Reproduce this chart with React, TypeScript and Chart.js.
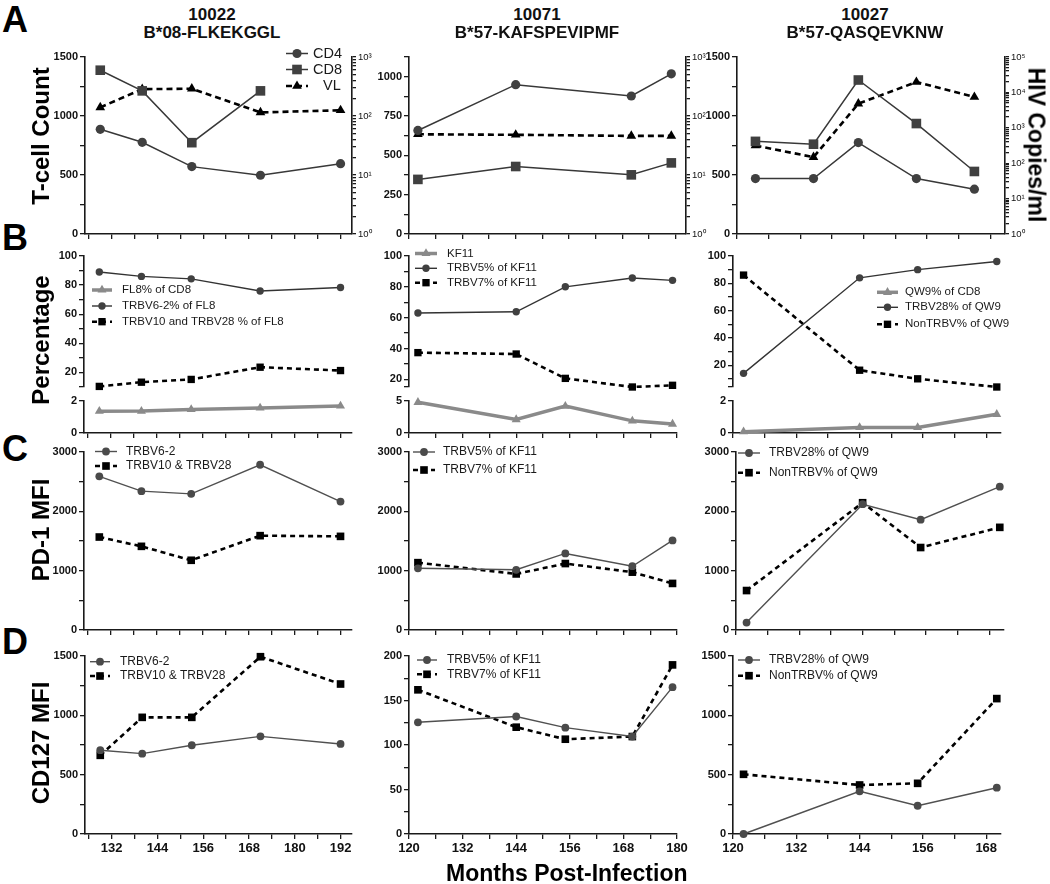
import React, { useEffect, useRef } from 'react';
import { Chart, registerables } from 'chart.js';
Chart.register(...registerables);

const FONT = '"Liberation Sans", Arial, Helvetica, sans-serif';

// ---------------- data ----------------
// months post-infection
const monthsA1 = [129, 140, 153, 171, 192];
const monthsA2 = [122, 144, 170, 179];
const monthsA3 = [123.5, 134.5, 143, 154, 165];
const months1 = [129, 140, 153, 171, 192];
const months2 = [122, 144, 155, 170, 179];
const months3 = [122, 144, 155, 170];

// Row A: T-cell counts and viral load
const a1CD4 = [887, 777, 571, 498, 596];
const a1CD8 = [1388, 1213, 774, 1213, null];
const a1VL = [140, 285, 290, 115, 125];
const a2CD4 = [658, 949, 877, 1018];
const a2CD8 = [347, 429, 376, 452];
const a2VL = [49, 48, 46, 46];
const a3CD4 = [470, 470, 775, 470, 380];
const a3CD8 = [785, 761, 1305, 936, 530];
const a3VL = [316, 148, 4800, 19600, 7400];

// Row B: percentages
const b1FL8 = [1.36, 1.37, 1.47, 1.57, 1.69];
const b1V6 = [89, 86, 84.3, 76, 78.4];
const b1V10 = [10.4, 13.3, 15.2, 23.6, 21.3];
const b2KF11 = [4.8, 2.1, 4.2, 1.9, 1.4];
const b2V5 = [63, 63.8, 80, 85.7, 84.2];
const b2V7 = [37.3, 36.4, 20.6, 15, 16.1];
const b3QW9 = [0.08, 0.35, 0.35, 1.17];
const b3V28 = [14, 84, 90, 96];
const b3Non = [86, 16.3, 10, 4];

// Row C: PD-1 MFI
const c1V6 = [2590, 2340, 2295, 2785, 2165];
const c1V10 = [1567, 1410, 1175, 1590, 1578];
const c2V5 = [1040, 1015, 1290, 1075, 1510];
const c2V7 = [1135, 945, 1120, 975, 785];
const c3V28 = [125, 2120, 1860, 2415];
const c3Non = [665, 2145, 1390, 1730];

// Row D: CD127 MFI
const d1V6 = [706, 677, 748, 823, 759];
const d1V10 = [663, 983, 983, 1494, 1264];
const d2V5 = [125.5, 132, 119.5, 109.5, 165];
const d2V7 = [162, 120, 106.5, 109.5, 190];
const d3V28 = [0, 360, 238, 390];
const d3Non = [503, 413, 427, 1141];

// ---------------- ticks ----------------
const xTicks1 = [126, 132, 138, 144, 150, 156, 162, 168, 174, 180, 186, 192];
const xLabels1 = [132, 144, 156, 168, 180, 192];
const xTicks2 = [120, 126, 132, 138, 144, 150, 156, 162, 168, 174, 180];
const xLabels2 = [120, 132, 144, 156, 168, 180];
const xTicks3 = [120, 126, 132, 138, 144, 150, 156, 162, 168];
const xLabels3 = [120, 132, 144, 156, 168];

const yTicks1500 = [0, 250, 500, 750, 1000, 1250, 1500];
const yLabels1500 = [0, 500, 1000, 1500];
const yTicks1125 = [0, 125, 250, 375, 500, 625, 750, 875, 1000, 1125];
const yLabels1125 = [0, 250, 500, 750, 1000];
const logLabels3 = [1, 10, 100, 1000];
const logLabels5 = [1, 10, 100, 1000, 10000, 100000];
const yTicksB1 = [10, 20, 30, 40, 50, 60, 70, 80, 90, 100];
const yTicksB2 = [15, 20, 30, 40, 50, 60, 70, 80, 90, 100];
const yTicksB3 = [4, 10, 20, 30, 40, 50, 60, 70, 80, 90, 100];
const yLabelsB = [20, 40, 60, 80, 100];
const yTicksLo2 = [0, 2];
const yTicksLo5 = [0, 5];
const yTicks3000 = [0, 500, 1000, 1500, 2000, 2500, 3000];
const yLabels3000 = [0, 1000, 2000, 3000];
const yTicks200 = [0, 25, 50, 75, 100, 125, 150, 175, 200];
const yLabels200 = [0, 50, 100, 150, 200];

const SUP = ['\u2070', '\u00B9', '\u00B2', '\u00B3', '\u2074', '\u2075'];
const logFmt = (v: number) => '10' + SUP[Math.round(Math.log10(v))];
const withMinors = (decades: number[]) => {
  const out: number[] = [];
  decades.forEach((d, i) => {
    if (i === decades.length - 1) { out.push(d); return; }
    for (let k = 1; k < 10; k++) out.push(d * k);
  });
  return out;
};

// ---------------- styles ----------------
type St = { line: string; fill: string; w: number; dash: number[]; marker: string; r: number; label?: string };
const aCirc: St = { line: '#383838', fill: '#404040', w: 1.5, dash: [], marker: 'circle', r: 4.6 };
const aSq: St = { line: '#383838', fill: '#404040', w: 1.5, dash: [], marker: 'rect', r: 6.8 };
const aTri: St = { line: '#000', fill: '#000', w: 2.6, dash: [6, 4], marker: 'triangle', r: 5.6 };
const bTri: St = { line: '#8a8a8a', fill: '#8a8a8a', w: 3.5, dash: [], marker: 'triangle', r: 5.2 };
const bCirc: St = { line: '#333', fill: '#404040', w: 1.4, dash: [], marker: 'circle', r: 3.7 };
const bSq: St = { line: '#000', fill: '#000', w: 2.6, dash: [5, 4], marker: 'rect', r: 5.2 };
const cCirc: St = { line: '#505050', fill: '#4a4a4a', w: 1.4, dash: [], marker: 'circle', r: 3.9 };
const cSq: St = { line: '#000', fill: '#000', w: 2.6, dash: [5, 4], marker: 'rect', r: 5.4 };
const lab = (st: St, label: string): St => ({ ...st, label });

function ds(st: St, xs: number[], ys: (number | null)[], yAxisID = 'y') {
  const data: { x: number; y: number }[] = [];
  xs.forEach((x, i) => { const v = ys[i]; if (v !== null && v !== undefined) data.push({ x, y: v }); });
  return {
    label: st.label, yAxisID, data,
    borderColor: st.line, backgroundColor: st.fill, borderWidth: st.w, borderDash: st.dash,
    pointStyle: st.marker, pointRadius: st.r, pointBackgroundColor: st.fill, pointBorderColor: st.fill,
    pointBorderWidth: 0, tension: 0, clip: false, fill: false,
  };
}

// ---------------- panel machinery ----------------
type Ax = { min: number; max: number; ticks: number[]; labels: number[]; log?: boolean; fmt?: (v: number) => string; size?: number; bold?: boolean; tickLen?: number; show?: boolean };
type Legend = { x0: number; x1: number; tx: number; ys: number[]; items: St[]; size: number; dx?: number[] };
type Spec = { l: number; r: number; t: number; b: number; lw: number; rw: number; tp: number; bh: number; x: Ax; y: Ax; y2?: Ax; datasets: any[]; legend?: Legend };

function geom(s: Spec) {
  return { x: s.l - s.lw, y: s.t - s.tp, w: s.r - s.l + s.lw + s.rw, h: s.b - s.t + s.tp + s.bh };
}

function axisBase(ax: Ax) {
  return {
    min: ax.min, max: ax.max,
    afterBuildTicks: (sc: any) => { sc.ticks = ax.ticks.map((v) => ({ value: v })); },
    ticks: {
      autoSkip: false, maxRotation: 0, minRotation: 0, padding: 2, color: '#111',
      font: { family: FONT, size: ax.size ?? 11, weight: ax.bold === false ? 'normal' : 'bold' },
      callback: (v: any) => (ax.labels.includes(v) ? (ax.fmt ? ax.fmt(v) : String(v)) : ''),
    },
    grid: { display: true, drawOnChartArea: false, drawTicks: true, tickLength: ax.tickLen ?? 5, color: '#1a1a1a', lineWidth: 1.3 },
    border: { display: true, color: '#1a1a1a', width: 1.6 },
  };
}

function drawMarker(ctx: CanvasRenderingContext2D, kind: string, x: number, y: number, r: number, color: string) {
  ctx.fillStyle = color;
  ctx.beginPath();
  if (kind === 'circle') ctx.arc(x, y, r, 0, Math.PI * 2);
  else if (kind === 'rect') { const h = r * Math.SQRT1_2; ctx.rect(x - h, y - h, 2 * h, 2 * h); }
  else {
    for (let k = 0; k < 3; k++) {
      const a = -Math.PI / 2 + (k * 2 * Math.PI) / 3;
      const px = x + r * Math.cos(a), py = y + r * Math.sin(a);
      if (k === 0) ctx.moveTo(px, py); else ctx.lineTo(px, py);
    }
    ctx.closePath();
  }
  ctx.fill();
}

function legendPlugin(s: Spec) {
  const g = geom(s);
  const lg = s.legend!;
  return {
    id: 'inlineLegend',
    afterDraw(chart: any) {
      const ctx = chart.ctx as CanvasRenderingContext2D;
      ctx.save();
      lg.items.forEach((st, i) => {
        const y = lg.ys[i] - g.y;
        const x0 = lg.x0 - g.x, x1 = lg.x1 - g.x;
        ctx.strokeStyle = st.line; ctx.lineWidth = st.w; ctx.lineCap = 'butt';
        ctx.setLineDash(st.dash);
        ctx.beginPath(); ctx.moveTo(x0, y); ctx.lineTo(x1, y); ctx.stroke();
        ctx.setLineDash([]);
        drawMarker(ctx, st.marker, (x0 + x1) / 2, y, st.r, st.fill);
        ctx.fillStyle = '#1a1a1a';
        ctx.font = `${lg.size}px ${FONT}`;
        ctx.textBaseline = 'middle'; ctx.textAlign = 'left';
        ctx.fillText(st.label || '', lg.tx - g.x + (lg.dx ? lg.dx[i] : 0), y);
      });
      ctx.restore();
    },
  };
}

function buildConfig(s: Spec) {
  const showX = s.x.show !== false;
  const scales: any = {
    x: {
      type: 'linear', display: showX, ...axisBase(s.x),
      afterFit: (sc: any) => { sc.height = showX ? s.bh : 0; sc.paddingLeft = 0; sc.paddingRight = 0; },
    },
    y: {
      type: 'linear', position: 'left', ...axisBase(s.y),
      afterFit: (sc: any) => { sc.width = s.lw; sc.paddingTop = 0; sc.paddingBottom = 0; },
    },
  };
  if (s.y2) {
    scales.y2 = {
      type: 'logarithmic', position: 'right', ...axisBase(s.y2),
      afterFit: (sc: any) => { sc.width = s.rw; sc.paddingTop = 0; sc.paddingBottom = 0; },
    };
  }
  return {
    type: 'line',
    data: { datasets: s.datasets },
    options: {
      animation: false, responsive: false, maintainAspectRatio: false, devicePixelRatio: 1, events: [],
      layout: { padding: { left: 0, top: s.tp, right: s.y2 ? 0 : s.rw, bottom: showX ? 0 : s.bh } },
      plugins: { legend: { display: false }, tooltip: { enabled: false } },
      scales,
    },
    plugins: s.legend ? [legendPlugin(s)] : [],
  };
}

function Panel({ s }: { s: Spec }) {
  const ref = useRef<HTMLCanvasElement>(null);
  const g = geom(s);
  useEffect(() => {
    const c = new Chart(ref.current as HTMLCanvasElement, buildConfig(s) as any);
    return () => c.destroy();
  }, []);
  return (
    <canvas ref={ref} width={g.w} height={g.h}
      style={{ position: 'absolute', left: g.x, top: g.y, width: g.w, height: g.h }} />
  );
}

// ---------------- panel specs ----------------
const X1 = (labels: number[], show = true): Ax => ({ min: 125, max: 195, ticks: xTicks1, labels, size: 13, show });
const X2 = (labels: number[], max = 180, show = true): Ax => ({ min: 120, max, ticks: xTicks2, labels, size: 13, show });
const X3 = (labels: number[], show = true): Ax => ({ min: 120, max: 170.8, ticks: xTicks3, labels, size: 13, show });
const Y = (min: number, max: number, ticks: number[], labels: number[]): Ax => ({ min, max, ticks, labels });
const LOG = (max: number, labels: number[]): Ax => ({ min: 1, max, ticks: withMinors(labels), labels, log: true, fmt: logFmt, size: 9.5, bold: false, tickLen: 4 });

const specs: Spec[] = [
  // Row A
  {
    l: 85, r: 352, t: 57, b: 234, lw: 42, rw: 28, tp: 14, bh: 8,
    x: X1([]), y: Y(0, 1500, yTicks1500, yLabels1500), y2: LOG(1000, logLabels3),
    datasets: [ds(lab(aCirc, 'CD4'), monthsA1, a1CD4), ds(lab(aSq, 'CD8'), monthsA1, a1CD8), ds(lab(aTri, 'VL'), monthsA1, a1VL, 'y2')],
    legend: { x0: 286, x1: 308, tx: 313, ys: [53.5, 69.5, 86], items: [lab(aCirc, 'CD4'), lab(aSq, 'CD8'), lab(aTri, 'VL')], size: 14.5, dx: [0, 0, 10] },
  },
  {
    l: 409, r: 686, t: 57, b: 234, lw: 42, rw: 26, tp: 14, bh: 8,
    x: X2([], 182.3), y: Y(0, 1125, yTicks1125, yLabels1125), y2: LOG(1000, logLabels3),
    datasets: [ds(lab(aCirc, 'CD4'), monthsA2, a2CD4), ds(lab(aSq, 'CD8'), monthsA2, a2CD8), ds(lab(aTri, 'VL'), monthsA2, a2VL, 'y2')],
  },
  {
    l: 737, r: 1005, t: 57, b: 234, lw: 42, rw: 26, tp: 14, bh: 8,
    x: X3([]), y: Y(0, 1500, yTicks1500, yLabels1500), y2: LOG(100000, logLabels5),
    datasets: [ds(lab(aCirc, 'CD4'), monthsA3, a3CD4), ds(lab(aSq, 'CD8'), monthsA3, a3CD8), ds(lab(aTri, 'VL'), monthsA3, a3VL, 'y2')],
  },
  // Row B top segments
  {
    l: 84, r: 352, t: 256, b: 387, lw: 42, rw: 10, tp: 12, bh: 6,
    x: X1([], false), y: Y(10, 100, yTicksB1, yLabelsB),
    datasets: [ds(lab(bCirc, 'TRBV6-2% of FL8'), months1, b1V6), ds(lab(bSq, 'TRBV10 and TRBV28 % of FL8'), months1, b1V10)],
    legend: { x0: 92, x1: 112, tx: 122, ys: [290, 306, 321.7], items: [lab(bTri, 'FL8% of CD8'), lab(bCirc, 'TRBV6-2% of FL8'), lab(bSq, 'TRBV10 and TRBV28 % of FL8')], size: 11.5 },
  },
  {
    l: 409, r: 677, t: 256, b: 387, lw: 42, rw: 10, tp: 12, bh: 6,
    x: X2([], 180, false), y: Y(15, 100, yTicksB2, yLabelsB),
    datasets: [ds(lab(bCirc, 'TRBV5% of KF11'), months2, b2V5), ds(lab(bSq, 'TRBV7% of KF11'), months2, b2V7)],
    legend: { x0: 415, x1: 437, tx: 447, ys: [253.5, 268.3, 282.7], items: [lab(bTri, 'KF11'), lab(bCirc, 'TRBV5% of KF11'), lab(bSq, 'TRBV7% of KF11')], size: 11.5 },
  },
  {
    l: 733, r: 1001, t: 256, b: 387, lw: 42, rw: 12, tp: 12, bh: 6,
    x: X3([], false), y: Y(4, 100, yTicksB3, yLabelsB),
    datasets: [ds(lab(bCirc, 'TRBV28% of QW9'), months3, b3V28), ds(lab(bSq, 'NonTRBV% of QW9'), months3, b3Non)],
    legend: { x0: 877, x1: 898, tx: 905, ys: [292.3, 307.3, 324.3], items: [lab(bTri, 'QW9% of CD8'), lab(bCirc, 'TRBV28% of QW9'), lab(bSq, 'NonTRBV% of QW9')], size: 11.5 },
  },
  // Row B bottom segments
  {
    l: 84, r: 352, t: 401, b: 433, lw: 42, rw: 10, tp: 8, bh: 8,
    x: X1([]), y: Y(0, 2, yTicksLo2, yTicksLo2),
    datasets: [ds(lab(bTri, 'FL8% of CD8'), months1, b1FL8)],
  },
  {
    l: 409, r: 677, t: 401, b: 433, lw: 42, rw: 10, tp: 8, bh: 8,
    x: X2([]), y: Y(0, 5, yTicksLo5, yTicksLo5),
    datasets: [ds(lab(bTri, 'KF11'), months2, b2KF11)],
  },
  {
    l: 733, r: 1001, t: 401, b: 433, lw: 42, rw: 12, tp: 8, bh: 8,
    x: X3([]), y: Y(0, 2, yTicksLo2, yTicksLo2),
    datasets: [ds(lab(bTri, 'QW9% of CD8'), months3, b3QW9)],
  },
  // Row C
  {
    l: 84, r: 352, t: 452, b: 630, lw: 42, rw: 10, tp: 8, bh: 8,
    x: X1([]), y: Y(0, 3000, yTicks3000, yLabels3000),
    datasets: [ds(lab(cCirc, 'TRBV6-2'), months1, c1V6), ds(lab(cSq, 'TRBV10 & TRBV28'), months1, c1V10)],
    legend: { x0: 95, x1: 117, tx: 126, ys: [451.5, 466], items: [lab(cCirc, 'TRBV6-2'), lab(cSq, 'TRBV10 & TRBV28')], size: 12 },
  },
  {
    l: 409, r: 677, t: 452, b: 630, lw: 42, rw: 10, tp: 8, bh: 8,
    x: X2([]), y: Y(0, 3000, yTicks3000, yLabels3000),
    datasets: [ds(lab(cCirc, 'TRBV5% of KF11'), months2, c2V5), ds(lab(cSq, 'TRBV7% of KF11'), months2, c2V7)],
    legend: { x0: 413, x1: 435, tx: 443, ys: [452, 470], items: [lab(cCirc, 'TRBV5% of KF11'), lab(cSq, 'TRBV7% of KF11')], size: 12 },
  },
  {
    l: 736, r: 1004, t: 452, b: 630, lw: 42, rw: 10, tp: 8, bh: 8,
    x: X3([]), y: Y(0, 3000, yTicks3000, yLabels3000),
    datasets: [ds(lab(cCirc, 'TRBV28% of QW9'), months3, c3V28), ds(lab(cSq, 'NonTRBV% of QW9'), months3, c3Non)],
    legend: { x0: 738, x1: 760, tx: 769, ys: [453, 472.7], items: [lab(cCirc, 'TRBV28% of QW9'), lab(cSq, 'NonTRBV% of QW9')], size: 12 },
  },
  // Row D
  {
    l: 85, r: 352, t: 656, b: 834, lw: 42, rw: 12, tp: 8, bh: 28,
    x: X1(xLabels1), y: Y(0, 1500, yTicks1500, yLabels1500),
    datasets: [ds(lab(cCirc, 'TRBV6-2'), months1, d1V6), ds(lab(cSq, 'TRBV10 & TRBV28'), months1, d1V10)],
    legend: { x0: 90, x1: 110, tx: 120, ys: [661.7, 676], items: [lab(cCirc, 'TRBV6-2'), lab(cSq, 'TRBV10 & TRBV28')], size: 12 },
  },
  {
    l: 409, r: 677, t: 656, b: 834, lw: 42, rw: 12, tp: 8, bh: 28,
    x: X2(xLabels2), y: Y(0, 200, yTicks200, yLabels200),
    datasets: [ds(lab(cCirc, 'TRBV5% of KF11'), months2, d2V5), ds(lab(cSq, 'TRBV7% of KF11'), months2, d2V7)],
    legend: { x0: 417, x1: 437, tx: 447, ys: [660, 674.3], items: [lab(cCirc, 'TRBV5% of KF11'), lab(cSq, 'TRBV7% of KF11')], size: 12 },
  },
  {
    l: 733, r: 1001, t: 656, b: 834, lw: 42, rw: 12, tp: 8, bh: 28,
    x: X3(xLabels3), y: Y(0, 1500, yTicks1500, yLabels1500),
    datasets: [ds(lab(cCirc, 'TRBV28% of QW9'), months3, d3V28), ds(lab(cSq, 'NonTRBV% of QW9'), months3, d3Non)],
    legend: { x0: 738, x1: 760, tx: 769, ys: [660, 675.7], items: [lab(cCirc, 'TRBV28% of QW9'), lab(cSq, 'NonTRBV% of QW9')], size: 12 },
  },
];

// ---------------- text ----------------
const titles = [
  { cx: 212, l1: '10022', l2: 'B*08-FLKEKGGL' },
  { cx: 537, l1: '10071', l2: 'B*57-KAFSPEVIPMF' },
  { cx: 865, l1: '10027', l2: 'B*57-QASQEVKNW' },
];
const panelLetters = [
  { t: 'A', y: 2 },
  { t: 'B', y: 220 },
  { t: 'C', y: 431 },
  { t: 'D', y: 624 },
];
const yTitles = [
  { t: 'T-cell Count', cy: 136 },
  { t: 'Percentage', cy: 340 },
  { t: 'PD-1 MFI', cy: 530 },
  { t: 'CD127 MFI', cy: 743 },
];

const abs = (extra: React.CSSProperties): React.CSSProperties => ({
  position: 'absolute', whiteSpace: 'nowrap', lineHeight: 1, fontFamily: FONT, color: '#111', ...extra,
});

export default function App() {
  return (
    <div style={{ position: 'absolute', left: 0, top: 0, width: 1050, height: 884, background: '#fff', overflow: 'hidden', fontFamily: FONT }}>
      {specs.map((s, i) => <Panel key={i} s={s} />)}
      {titles.map((t, i) => (
        <React.Fragment key={'t' + i}>
          <div style={abs({ left: t.cx, top: 5.6, fontSize: 17, fontWeight: 700, transform: 'translateX(-50%)' })}>{t.l1}</div>
          <div style={abs({ left: t.cx, top: 23.9, fontSize: 17, fontWeight: 700, transform: 'translateX(-50%)' })}>{t.l2}</div>
        </React.Fragment>
      ))}
      {panelLetters.map((p) => (
        <div key={p.t} style={abs({ left: 2, top: p.y, fontSize: 36, fontWeight: 700, color: '#000' })}>{p.t}</div>
      ))}
      {yTitles.map((y) => (
        <div key={y.t} style={abs({ left: 41, top: y.cy, fontSize: 24, fontWeight: 700, color: '#000', transform: 'translate(-50%, -50%) rotate(-90deg)' })}>{y.t}</div>
      ))}
      <div style={abs({ left: 1036, top: 145, fontSize: 23, fontWeight: 700, color: '#000', transform: 'translate(-50%, -50%) rotate(90deg)' })}>HIV Copies/ml</div>
      <div style={abs({ left: 446, top: 862, fontSize: 23, fontWeight: 700, color: '#000' })}>Months Post-Infection</div>
    </div>
  );
}
